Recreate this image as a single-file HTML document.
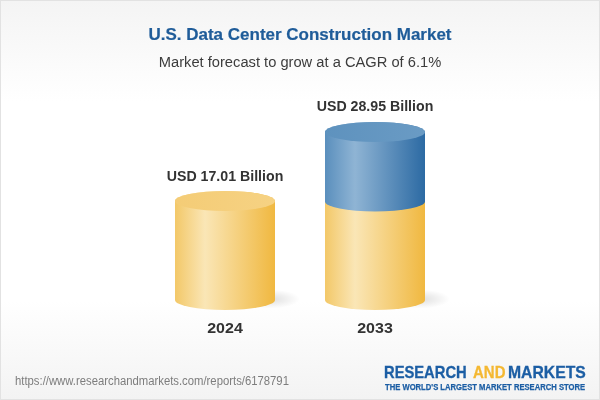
<!DOCTYPE html>
<html>
<head>
<meta charset="utf-8">
<title>U.S. Data Center Construction Market</title>
<style>
html,body{margin:0;padding:0;}
body{width:600px;height:400px;overflow:hidden;background:#fff;font-family:"Liberation Sans",sans-serif;}
#card{position:relative;width:598px;height:398px;border:1px solid #e2e2e2;overflow:hidden;
background:linear-gradient(to bottom,#f4f4f4 0px,#ffffff 100px,#ffffff 300px,#f3f3f3 398px);}
.t{position:absolute;white-space:nowrap;line-height:1;}
#title{left:0;width:598px;text-align:center;top:24.7px;font-size:17.3px;transform:scaleX(0.983);-webkit-text-stroke:0.2px #1f5c99;font-weight:bold;color:#1f5c99;}
#sub{left:0;width:598px;text-align:center;top:54.3px;font-size:14.7px;color:#3c3c3c;}
.lbl{font-weight:bold;font-size:15px;color:#333;text-align:center;width:160px;transform:scaleX(0.945);}
#l1{left:144px;top:167px;}
#l2{left:294px;top:97px;}
#y1{left:144px;top:318.6px;font-size:15.4px;transform:scaleX(1.04);}
#y2{left:294px;top:318.6px;font-size:15.4px;transform:scaleX(1.04);}
#url{left:14px;top:374px;font-size:12px;color:#7d7d7d;transform-origin:0 0;transform:scaleX(0.942);}
.lg{top:362.6px;-webkit-text-stroke:0.3px #1c5ea4;font-size:16.2px;font-weight:bold;color:#1c5ea4;transform-origin:0 0;}
#lg1{left:383.4px;transform:scaleX(0.91);}
#lg2{left:472px;color:#f4b832;-webkit-text-stroke-color:#f4b832;transform:scaleX(0.925);}
#lg3{left:507.3px;transform:scaleX(0.972);}
#tag{left:384px;top:381.8px;font-size:9px;font-weight:bold;color:#1c5ea4;-webkit-text-stroke:0.25px #1c5ea4;transform-origin:0 0;transform:scaleX(0.85);}
svg{position:absolute;left:-1px;top:-1px;}
</style>
</head>
<body>
<div id="card">
<svg width="600" height="400" viewBox="0 0 600 400" xmlns="http://www.w3.org/2000/svg">
<defs>
<linearGradient id="gy" x1="0" y1="0" x2="1" y2="0">
<stop offset="0" stop-color="#f3c868"/>
<stop offset="0.3" stop-color="#fae6b6"/>
<stop offset="1" stop-color="#f0b840"/>
</linearGradient>
<linearGradient id="gb" x1="0" y1="0" x2="1" y2="0">
<stop offset="0" stop-color="#5a8fbd"/>
<stop offset="0.3" stop-color="#8fb4d4"/>
<stop offset="1" stop-color="#2c6aa3"/>
</linearGradient>
<linearGradient id="ty" x1="0" y1="0" x2="1" y2="0">
<stop offset="0" stop-color="#f4cc76"/>
<stop offset="1" stop-color="#f6d283"/>
</linearGradient>
<linearGradient id="tb" x1="0" y1="0" x2="1" y2="0">
<stop offset="0" stop-color="#5e92be"/>
<stop offset="1" stop-color="#6a9bc4"/>
</linearGradient>
<radialGradient id="sh" cx="0.5" cy="0.5" r="0.5">
<stop offset="0" stop-color="#000" stop-opacity="0.13"/>
<stop offset="1" stop-color="#000" stop-opacity="0"/>
</radialGradient>
</defs>
<!-- shadows -->
<ellipse cx="270" cy="299" rx="30" ry="9.5" fill="url(#sh)"/>
<ellipse cx="420" cy="299" rx="30" ry="9.5" fill="url(#sh)"/>
<!-- left cylinder -->
<path d="M175 201 A50 10 0 0 1 275 201 L275 300 A50 10 0 0 1 175 300 Z" fill="url(#gy)"/>
<ellipse cx="225" cy="201" rx="50" ry="10" fill="url(#ty)"/>
<!-- right cylinder -->
<path d="M325 195 L425 195 L425 300 A50 10 0 0 1 325 300 Z" fill="url(#gy)"/>
<path d="M325 132 A50 10 0 0 1 425 132 L425 201.5 A50 10 0 0 1 325 201.5 Z" fill="url(#gb)"/>
<ellipse cx="375" cy="132" rx="50" ry="10" fill="url(#tb)"/>
</svg>
<div class="t" id="title">U.S. Data Center Construction Market</div>
<div class="t" id="sub">Market forecast to grow at a CAGR of 6.1%</div>
<div class="t lbl" id="l1">USD 17.01 Billion</div>
<div class="t lbl" id="l2">USD 28.95 Billion</div>
<div class="t lbl" id="y1">2024</div>
<div class="t lbl" id="y2">2033</div>
<div class="t" id="url">https://www.researchandmarkets.com/reports/6178791</div>
<div class="t lg" id="lg1">RESEARCH</div><div class="t lg" id="lg2">AND</div><div class="t lg" id="lg3">MARKETS</div>
<div class="t" id="tag">THE WORLD'S LARGEST MARKET RESEARCH STORE</div>
</div>
</body>
</html>
